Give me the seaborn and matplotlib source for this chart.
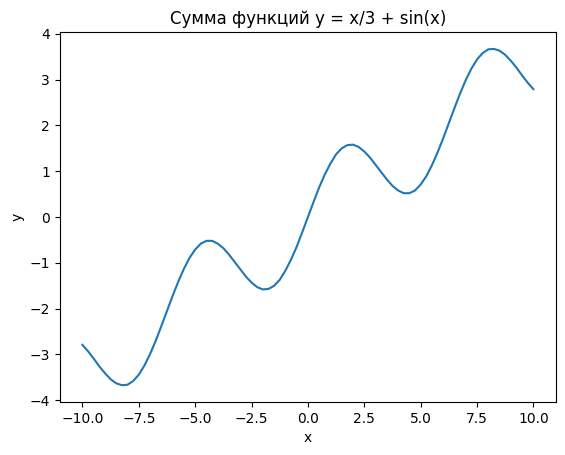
import numpy as np
import pandas as pd
import matplotlib
matplotlib.use("Agg")
import matplotlib.pyplot as plt
import seaborn as sns

# values, x from 0 to 10 step 0.25
x_pos = [0.0, 0.25, 0.5, 0.75, 1.0, 1.25, 1.5, 1.75, 2.0, 2.25, 2.5, 2.75,
         3.0, 3.25, 3.5, 3.75, 4.0, 4.25, 4.5, 4.75, 5.0, 5.25, 5.5, 5.75,
         6.0, 6.25, 6.5, 6.75, 7.0, 7.25, 7.5, 7.75, 8.0, 8.25, 8.5, 8.75,
         9.0, 9.25, 9.5, 9.75, 10.0]
y_pos = [0.00, 0.33, 0.65, 0.93, 1.17, 1.37, 1.50, 1.57, 1.58, 1.53, 1.43, 1.30,
         1.14, 0.98, 0.82, 0.68, 0.58, 0.52, 0.52, 0.58, 0.71, 0.89, 1.13, 1.41,
         1.72, 2.05, 2.38, 2.70, 2.99, 3.24, 3.44, 3.58, 3.66, 3.67, 3.63, 3.54,
         3.41, 3.26, 3.09, 2.93, 2.79]

# the curve is symmetric about the origin, so the left half mirrors the right
x_vals = [-v for v in x_pos[:0:-1]] + x_pos
y_vals = [-v for v in y_pos[:0:-1]] + y_pos

df = pd.DataFrame({"x": x_vals, "y": y_vals})

fig = plt.figure(figsize=(5.65, 4.55), dpi=100)
ax = fig.add_axes([0.106, 0.1165, 0.878, 0.813])
sns.lineplot(data=df, x="x", y="y", ax=ax, color="#1f77b4")
ax.set_title("Сумма функций y = x/3 + sin(x)")
ax.set_xlabel("x")
ax.set_ylabel("y")

fig.savefig("out.png", dpi=100)
